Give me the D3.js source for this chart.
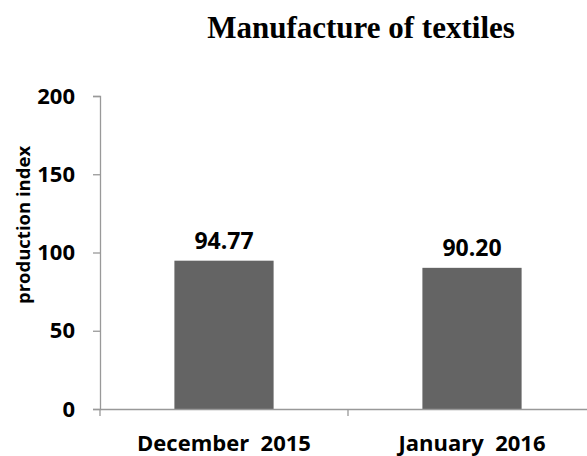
<!DOCTYPE html>
<html>
<head>
<meta charset="utf-8">
<script src="https://cdn.jsdelivr.net/npm/d3@7"></script>
<style>
  body { margin: 0; background: #fff; }
  text { white-space: pre; }
</style>
</head>
<body>
<div id="chart"></div>
<script>
const categories = ["December  2015", "January  2016"];
const values = [94.77, 90.2];
const yTicks = [0, 50, 100, 150, 200];

const width = 587;
const height = 456;
const margin = { left: 100, right: -9, top: 96, bottom: 47 };

const svg = d3
  .select("#chart")
  .append("svg")
  .attr("width", width)
  .attr("height", height);

const x = d3
  .scaleBand()
  .domain(categories)
  .range([margin.left, width - margin.right])
  .paddingInner(0.6)
  .paddingOuter(0.3);

const y = d3
  .scaleLinear()
  .domain([0, 200])
  .range([height - margin.bottom, margin.top]);

const sans = "'Open Sans', sans-serif";

// title
svg
  .append("text")
  .attr("x", 361)
  .attr("y", 38)
  .attr("text-anchor", "middle")
  .style("font-family", "'Liberation Serif', serif")
  .style("font-weight", "bold")
  .style("font-size", "31px")
  .text("Manufacture of textiles");

// bars
svg
  .selectAll(".bar")
  .data(values)
  .join("rect")
  .attr("class", "bar")
  .attr("x", (d, i) => x(categories[i]))
  .attr("width", x.bandwidth())
  .attr("y", (d) => y(d))
  .attr("height", (d) => y(0) - y(d))
  .attr("fill", "#646464");

// value labels
svg
  .selectAll(".val")
  .data(values)
  .join("text")
  .attr("class", "val")
  .attr("x", (d, i) => x(categories[i]) + x.bandwidth() / 2)
  .attr("y", (d) => y(d) - 12)
  .attr("text-anchor", "middle")
  .style("font-family", sans)
  .style("font-weight", "bold")
  .style("font-size", "23px")
  .text((d) => d.toFixed(2));

// y axis
svg
  .append("g")
  .attr("transform", `translate(${margin.left},0)`)
  .call(d3.axisLeft(y).tickValues(yTicks).tickSize(7).tickPadding(18));

// x axis with boundary ticks
const xAxis = svg
  .append("g")
  .attr("transform", `translate(0,${y(0)})`)
  .call(d3.axisBottom(x).tickSize(0).tickPadding(26));

const plotW = width - margin.right - margin.left;
const bounds = [margin.left, margin.left + plotW / 2, width - margin.right];
xAxis
  .selectAll(".bound")
  .data(bounds)
  .join("line")
  .attr("class", "bound")
  .attr("x1", (d) => d)
  .attr("x2", (d) => d)
  .attr("y1", 0)
  .attr("y2", 7);

svg.selectAll(".domain").attr("stroke", "#999").attr("stroke-width", 1.3);
svg.selectAll(".tick line, .bound").attr("stroke", "#999").attr("stroke-width", 1.3);
svg
  .selectAll(".tick text")
  .attr("fill", "#000")
  .style("font-family", sans)
  .style("font-weight", "bold")
  .style("font-size", "22px");

// y label
svg
  .append("text")
  .attr("transform", "translate(30,225) rotate(-90)")
  .attr("text-anchor", "middle")
  .style("font-family", sans)
  .style("font-weight", "bold")
  .style("font-size", "18.5px")
  .text("production index");
</script>
</body>
</html>
